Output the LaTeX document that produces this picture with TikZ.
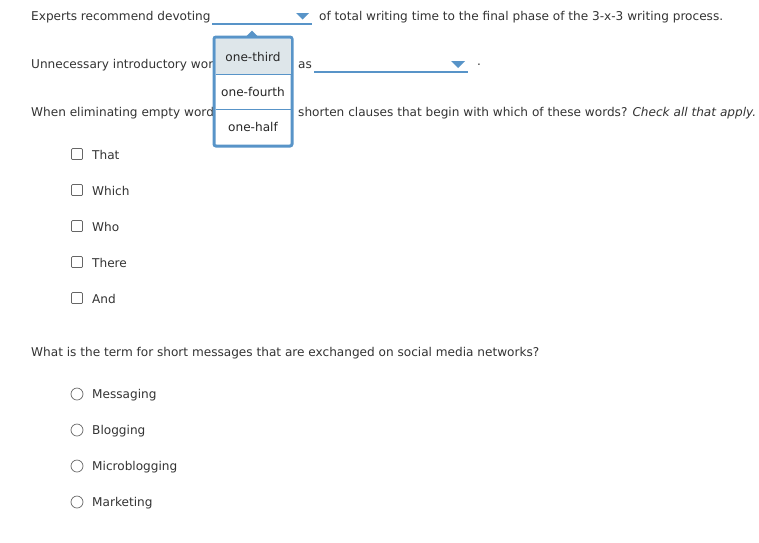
\documentclass[tikz,border=0pt]{standalone}
\usepackage{fontspec}
\setmainfont{DejaVu Sans}
\definecolor{bl}{RGB}{88,148,200}
\definecolor{sel}{RGB}{222,230,234}
\begin{document}
\begin{tikzpicture}[x=1pt,y=-1pt,
 txt/.style={anchor=west,inner sep=0pt,text=black!80,font=\fontsize{12.1}{14}\selectfont},
 opt/.style={inner sep=0pt,text=black!85,font=\fontsize{12.1}{14}\selectfont},
 ul/.style={draw=bl,line width=1.2pt},
 caret/.style={fill=bl},
 cb/.style={draw=black!60,line width=0.7pt,minimum size=11pt,inner sep=0pt,rounded corners=1pt},
 rb/.style={draw=black!60,line width=0.7pt,circle,minimum size=12pt,inner sep=0pt}]
\useasboundingbox[fill=white] (0,0) rectangle (759,542);
\node[txt] (q1a) at (31,17) {Experts recommend devoting};
\draw[ul] (212,24) -- (312,24);
\fill[caret] (296,13) -- (309,13) -- (302.5,19.5) -- cycle;
\node[txt] (q1b) at (319,17) {of total writing time to the final phase of the 3-x-3 writing process.};
\node[txt] (q2a) at (31,65) {Unnecessary introductory wor};
\node[txt] (q2b) at (298,65) {as};
\draw[ul] (314,72) -- (468,72);
\fill[caret] (451,61) -- (465,61) -- (458,68) -- cycle;
\node[txt] (dot) at (477,65) {.};
\node[txt] (q3a) at (31,113) {When eliminating empty word};
\node[txt] (q3b) at (298,113) {shorten clauses that begin with which of these words? \textit{Check all that apply.}};
% dropdown
\fill[bl] (246,36.5) -- (258,36.5) -- (252,30.5) -- cycle;
\draw[bl,line width=3pt,fill=white,rounded corners=2pt] (214,37) rectangle (292,146);
\fill[sel] (215.5,38.5) rectangle (290.5,74);
\draw[bl,line width=0.7pt] (215.5,74) -- (290.5,74);
\draw[bl,line width=0.7pt] (215.5,109) -- (290.5,109);
\node[opt] (o1) at (253,57) {one-third};
\node[opt] (o2) at (253,92) {one-fourth};
\node[opt] (o3) at (253,127) {one-half};
% checkboxes
\foreach \y/\t/\n in {154/That/a,190/Which/b,226/Who/c,262/There/d,298/And/e}{
 \node[cb] (c\n) at (77,\y) {};
 \node[txt] (ct\n) at (92,\y+1) {\t};}
\node[txt] (q4) at (31,353) {What is the term for short messages that are exchanged on social media networks?};
\foreach \y/\t/\n in {394/Messaging/a,430/Blogging/b,466/Microblogging/c,502/Marketing/d}{
 \node[rb] (r\n) at (77,\y) {};
 \node[txt] (rt\n) at (92,\y+1) {\t};}
\end{tikzpicture}
\end{document}
